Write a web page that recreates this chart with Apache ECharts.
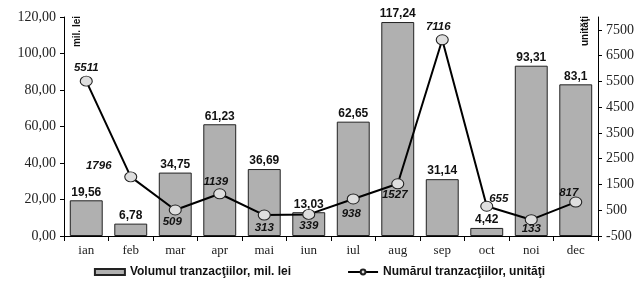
<!DOCTYPE html>
<html lang="ro">
<head>
    <meta charset="UTF-8">
    <title>Tranzactii</title>
    <script src="https://cdn.jsdelivr.net/npm/echarts@6/dist/echarts.min.js"></script>
    <style>
        body{ margin:0; background:#fff; }
        #chart{ width:639px; height:284px; }
    </style>
</head>
<body>
<div id="chart"></div>
<script>
    // luni
    const months = ['ian','feb','mar','apr','mai','iun','iul','aug','sep','oct','noi','dec'];
    // volumul tranzactiilor, mil. lei
    const volume = [19.56, 6.78, 34.75, 61.23, 36.69, 13.03, 62.65, 117.24, 31.14, 4.42, 93.31, 83.1];
    // numarul tranzactiilor, unitati
    const count = [5511, 1796, 509, 1139, 313, 339, 938, 1527, 7116, 655, 133, 817];
    // etichete axa dreapta
    const rightTicks = [-500, 500, 1500, 2500, 3500, 4500, 5500, 6500, 7500];

    // unde sta eticheta fiecarui punct (doar stil)
    const countLabelPlace = [
        ['top', [0, 3]], ['top', [-32, 5]], ['bottom', [-3, -5]], ['top', [-4, 5]],
        ['bottom', [0, -4]], ['bottom', [0, -5]], ['bottom', [-2, -2]], ['bottom', [-3, -5]],
        ['top', [-4, 4]], ['top', [12, 9]], ['bottom', [0, -7]], ['top', [-7, 7]]
    ];

    const comma = v => String(v).replace('.', ',');

    const chart = echarts.init(document.getElementById('chart'));
    const serif = 'Liberation Serif';
    const sans = 'Liberation Sans';

    const countData = count.map((v, i) => ({
        value: v,
        label: { position: countLabelPlace[i][0], offset: countLabelPlace[i][1] }
    }));

    chart.setOption({
        animation: false,
        grid: { left: 64, right: 41, top: 17, bottom: 48 },
        legend: {
            bottom: 1,
            left: 'center',
            itemGap: 56,
            itemWidth: 30,
            itemHeight: 6,
            textStyle: { fontFamily: sans, fontWeight: 'bold', fontSize: 12, color: '#111' },
            data: [
                { name: 'Volumul tranzacţiilor, mil. lei', icon: 'rect' },
                { name: 'Numărul tranzacţiilor, unităţi' }
            ]
        },
        xAxis: {
            type: 'category',
            data: months,
            axisLine: { lineStyle: { color: '#000', width: 1 } },
            axisTick: { show: true, length: 5, lineStyle: { color: '#000' } },
            axisLabel: { fontFamily: serif, fontSize: 13, color: '#222', margin: 8 }
        },
        yAxis: [
            {
                type: 'value',
                min: 0, max: 120, interval: 20,
                splitLine: { show: false },
                axisLine: { show: true, lineStyle: { color: '#000' } },
                axisTick: { show: true, length: 4, lineStyle: { color: '#000' } },
                axisLabel: {
                    fontFamily: serif, fontSize: 14, color: '#222', margin: 8,
                    formatter: v => v.toFixed(2).replace('.', ',')
                }
            },
            {
                type: 'value',
                min: -500, max: 8000,
                position: 'right',
                splitLine: { show: false },
                axisLine: { show: true, lineStyle: { color: '#000' } },
                axisTick: { show: true, length: 4, lineStyle: { color: '#000' }, customValues: rightTicks },
                axisLabel: {
                    fontFamily: serif, fontSize: 14, color: '#222', margin: 8,
                    customValues: rightTicks,
                    formatter: v => String(v)
                }
            }
        ],
        graphic: [
            {
                type: 'text', left: 72, top: 16, rotation: Math.PI / 2,
                style: { text: 'mil. lei', font: 'bold 10px ' + sans, fill: '#111' }
            },
            {
                type: 'text', left: 580, top: 16, rotation: Math.PI / 2,
                style: { text: 'unităţi', font: 'bold 10px ' + sans, fill: '#111' }
            }
        ],
        series: [
            {
                name: 'Volumul tranzacţiilor, mil. lei',
                type: 'bar',
                barCategoryGap: '26%',
                data: volume,
                itemStyle: { color: '#b0b0b0', borderColor: '#222', borderWidth: 1 },
                label: {
                    show: true, position: 'top', distance: 2,
                    fontFamily: sans, fontWeight: 'bold', fontSize: 12, color: '#111',
                    formatter: p => comma(p.value)
                }
            },
            {
                name: 'Numărul tranzacţiilor, unităţi',
                type: 'line',
                yAxisIndex: 1,
                data: countData,
                symbol: 'circle',
                symbolSize: [12, 10],
                z: 5,
                lineStyle: { color: '#000', width: 2 },
                itemStyle: { color: '#dedede', borderColor: '#222', borderWidth: 1 },
                label: {
                    show: true,
                    fontFamily: sans, fontWeight: 'bold', fontStyle: 'italic', fontSize: 11.5, color: '#111'
                }
            }
        ]
    });
</script>
</body>
</html>
